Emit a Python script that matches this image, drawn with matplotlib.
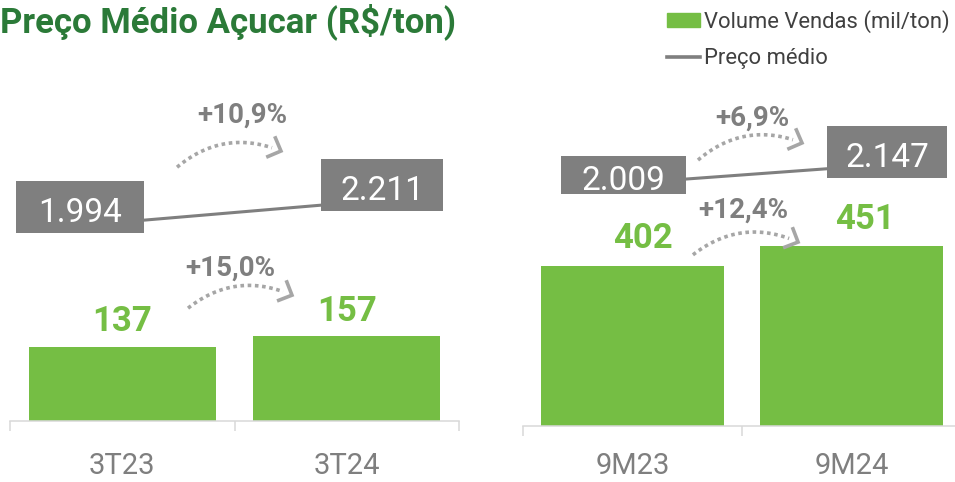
import matplotlib
matplotlib.use('Agg')
import matplotlib.pyplot as plt
import numpy as np
from matplotlib.path import Path
from matplotlib.patches import Patch
from matplotlib.lines import Line2D
from matplotlib.transforms import IdentityTransform

# dados
periodos_tri = ['3T23', '3T24']
volume_tri = [137, 157]
preco_tri = [1994, 2211]
var_preco_tri = '+10,9%'
var_vol_tri = '+15,0%'

periodos_acum = ['9M23', '9M24']
volume_acum = [402, 451]
preco_acum = [2009, 2147]
var_preco_acum = '+6,9%'
var_vol_acum = '+12,4%'

VERDE = '#75BE44'
CINZA = '#7F7F7F'
CINZA_SETA = '#A6A6A6'
EIXO = '#D9D9D9'

plt.rcParams['font.family'] = ['Roboto', 'DejaVu Sans']

W, H = 955, 482
fig = plt.figure(figsize=(W / 100, H / 100), dpi=100)


def caixa(w, h, dy=6):
    # caixa de tamanho fixo (pixels) em volta do rotulo
    def estilo(x0, y0, width, height, mutation_size):
        cx = x0 + width / 2
        cy = y0 + height / 2 + dy
        return Path([(cx - w / 2, cy - h / 2), (cx + w / 2, cy - h / 2),
                     (cx + w / 2, cy + h / 2), (cx - w / 2, cy + h / 2),
                     (cx - w / 2, cy - h / 2)], closed=True)
    return estilo


def seta(ax, p0, p1, rad=-0.3):
    (x0, y0), (x1, y1) = ax.transData.transform([p0, p1])
    mx, my = (x0 + x1) / 2, (y0 + y1) / 2
    dx, dy = x1 - x0, y1 - y0
    cx, cy = mx + rad * dy, my - rad * dx
    t = np.linspace(0, 0.92, 40)
    bx = (1 - t) ** 2 * x0 + 2 * (1 - t) * t * cx + t ** 2 * x1
    by = (1 - t) ** 2 * y0 + 2 * (1 - t) * t * cy + t ** 2 * y1
    fig.add_artist(Line2D(bx, by, transform=IdentityTransform(), color=CINZA_SETA,
                          lw=2.6, linestyle=(0, (1, 1)), dash_capstyle='butt'))
    tx, ty = x1 - cx, y1 - cy
    n = np.hypot(tx, ty)
    bxv, byv = -tx / n, -ty / n
    braco = []
    for ang in (np.radians(45), -np.radians(45)):
        c, s = np.cos(ang), np.sin(ang)
        braco.append((x1 + 16 * (c * bxv - s * byv), y1 + 16 * (s * bxv + c * byv)))
    fig.add_artist(Line2D([braco[0][0], x1, braco[1][0]], [braco[0][1], y1, braco[1][1]],
                          transform=IdentityTransform(), color=CINZA_SETA, lw=2.6,
                          solid_capstyle='butt', solid_joinstyle='miter'))


def painel(rect, periodos, volume, preco, ylim_v, ylim_p, pad, ajustes_v, ajustes_p, caixas):
    ax = fig.add_axes(rect)
    x = np.arange(len(periodos))
    ax.bar(x, volume, width=0.835, color=VERDE, zorder=2)
    ax.set_xlim(-0.5, 1.5)
    ax.set_ylim(*ylim_v)
    ax.set_yticks([])
    for s in ('top', 'left', 'right'):
        ax.spines[s].set_visible(False)
    ax.spines['bottom'].set_color(EIXO)
    ax.spines['bottom'].set_linewidth(1.1)
    ax.set_xticks(x)
    ax.set_xticklabels(periodos)
    ax.set_xticks([-0.5, 0.5, 1.5], minor=True)
    ax.tick_params(axis='x', which='major', length=0, pad=pad, labelsize=21, labelcolor=CINZA)
    ax.tick_params(axis='x', which='minor', length=7.5, width=1.1, color=EIXO)
    for xi, v, (dx, dy) in zip(x, volume, ajustes_v):
        ax.annotate(f'{v}', (xi, v), xytext=(dx, dy), textcoords='offset pixels',
                    ha='center', va='center', fontsize=25, fontweight='bold', color=VERDE)

    ax2 = ax.twinx()
    ax2.set_ylim(*ylim_p)
    ax2.axis('off')
    ax2.plot(x, preco, color=CINZA, lw=2.2, zorder=1)
    for xi, p, (dx, dy), (bw, bh) in zip(x, preco, ajustes_p, caixas):
        ax2.annotate(f'{p:,}'.replace(',', '.'), (xi, p), xytext=(dx, dy),
                     textcoords='offset pixels', ha='center', va='center',
                     fontsize=24, color='white',
                     bbox=dict(boxstyle=caixa(bw, bh), fc=CINZA, ec='none'))
    return ax


ax_t = painel([10 / W, 1 - 421 / H, 449 / W, 331 / H], periodos_tri, volume_tri, preco_tri,
              (0, 613), (-278, 3501), 22,
              [(0, 25.5), (0, 24.5)], [(-42, 9), (35.5, 12)], [(128, 52), (122, 52)])
ax_a = painel([523 / W, 1 - 426 / H, 438 / W, 336 / H], periodos_acum, volume_acum, preco_acum,
              (0, 844), (-88, 2811), 19,
              [(10, 27), (13, 27)], [(-9.5, 1.5), (35.5, 9)], [(125, 38), (120, 52)])

# variacoes
rot = dict(ha='center', va='center', fontsize=20, fontweight='bold', color=CINZA)
ax_t.text(0.533, 567, var_preco_tri, **rot)
ax_t.text(0.48, 283, var_vol_tri, **rot)
ax_a.text(0.546, 774, var_preco_acum, **rot)
ax_a.text(0.505, 543, var_vol_acum, **rot)
seta(ax_t, (0.244, 470), (0.707, 500))
seta(ax_t, (0.293, 209), (0.756, 233))
seta(ax_a, (0.299, 668), (0.774, 711))
seta(ax_a, (0.276, 430), (0.756, 462))

fig.text(0.0, 1 - 32 / H, 'Preço Médio Açucar (R$/ton)', ha='left', va='baseline',
         fontsize=25, fontweight='bold', color='#2B7A38')

alcas = [Patch(color=VERDE), Line2D([0], [0], color=CINZA, lw=2.6)]
fig.legend(alcas, ['Volume Vendas (mil/ton)', 'Preço médio'], loc='upper left',
           bbox_to_anchor=(667 / W, 1 - 10 / H), frameon=False, fontsize=15.8,
           handlelength=1.52, handleheight=0.6, handletextpad=0.15, labelspacing=0.68,
           borderpad=0, borderaxespad=0, labelcolor='#404040')

fig.savefig('out.png', dpi=100)
